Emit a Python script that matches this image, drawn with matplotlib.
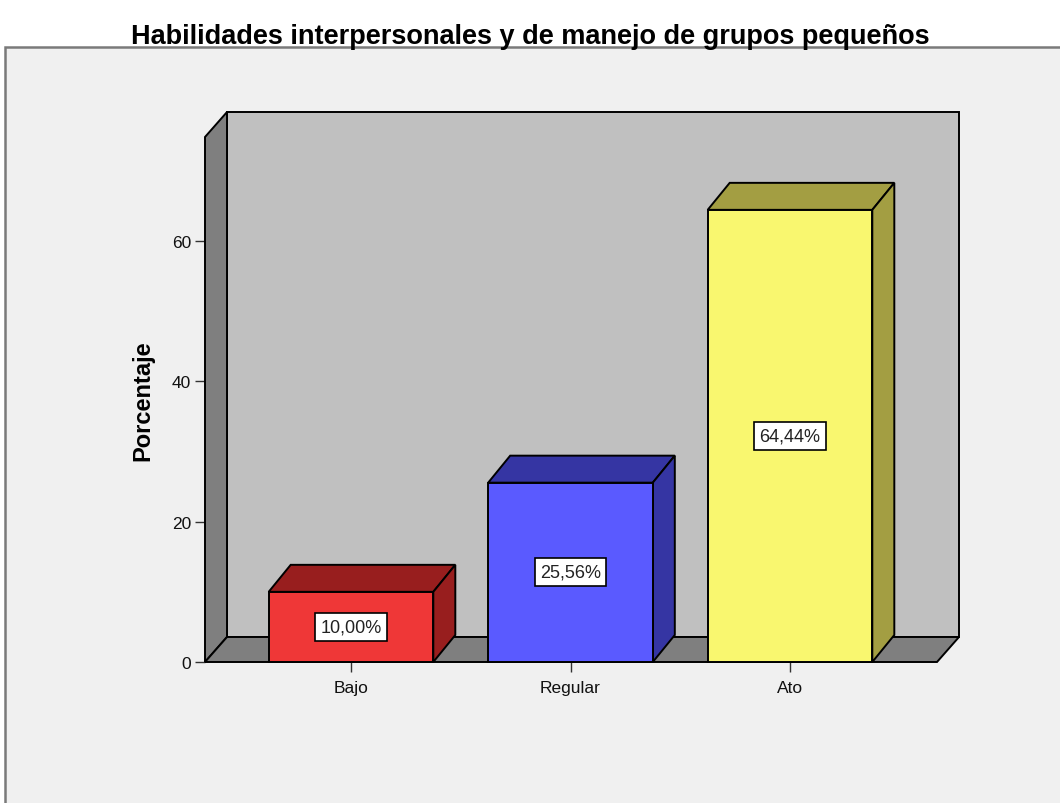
import matplotlib
matplotlib.use("Agg")
import matplotlib.pyplot as plt
from matplotlib.patches import Polygon, Rectangle

plt.rcParams['font.family'] = ['Liberation Sans', 'DejaVu Sans']

# data
categorias = ['Bajo', 'Regular', 'Ato']
porcentajes = [10.00, 25.56, 64.44]
frente = ['#ef3737', '#5a5aff', '#f9f76f']
lados = ['#981e1e', '#3535a3', '#a39e42']

titulo = 'Habilidades interpersonales y de manejo de grupos pequeños'

W, H = 1060, 804
fig = plt.figure(figsize=(W / 100, H / 100), dpi=100)
fig.patch.set_facecolor('white')

# outer chart frame
fig.patches.append(Rectangle((5 / W, -0.05), 1.1, 1 - 48 / H + 0.05, transform=fig.transFigure,
                             facecolor='#f0f0f0', edgecolor='#7a7a7a', linewidth=1.8, zorder=-5))
fig.text(0.5, 1 - 37 / H, titulo, ha='center', va='center', fontsize=19.5, fontweight='bold')

# axes = front face of the 3D box
x_left, x_right, y_bot, y_top = 205, 937, 663, 138
ax = fig.add_axes([x_left / W, 1 - y_bot / H, (x_right - x_left) / W, (y_bot - y_top) / H])
ax.set_zorder(2)
px_x = 219.5   # px per category
px_y = 421 / 60  # px per percent
x0 = (x_left - 351) / px_x
x1 = (x_right - 351) / px_x
ytop = (y_bot - y_top) / px_y
ax.set_xlim(x0, x1)
ax.set_ylim(0, ytop)
ax.patch.set_visible(False)
for s in ax.spines.values():
    s.set_visible(False)

dx = 22 / px_x
dy = 25 / px_y
lw = 1.4

# back wall, left wall, floor
ax.add_patch(Polygon([(x0 + dx, dy), (x1 + dx, dy), (x1 + dx, ytop + dy), (x0 + dx, ytop + dy)],
                     closed=True, fc='#c0c0c0', ec='black', lw=lw, clip_on=False, zorder=1))
ax.add_patch(Polygon([(x0, 0), (x0, ytop), (x0 + dx, ytop + dy), (x0 + dx, dy)],
                     closed=True, fc='#7f7f7f', ec='black', lw=lw, clip_on=False, zorder=2))
ax.add_patch(Polygon([(x0, 0), (x1, 0), (x1 + dx, dy), (x0 + dx, dy)],
                     closed=True, fc='#7f7f7f', ec='black', lw=lw, clip_on=False, zorder=2))

ancho = 0.75
bdy = 27 / px_y
for i, (v, fc, sc) in enumerate(zip(porcentajes, frente, lados)):
    a, b = i - ancho / 2, i + ancho / 2
    ax.add_patch(Polygon([(a, v), (b, v), (b + dx, v + bdy), (a + dx, v + bdy)],
                         closed=True, fc=sc, ec='black', lw=lw, clip_on=False, zorder=3))
    ax.add_patch(Polygon([(b, 0), (b, v), (b + dx, v + bdy), (b + dx, bdy)],
                         closed=True, fc=sc, ec='black', lw=lw, clip_on=False, zorder=3))
    ax.add_patch(Rectangle((a, 0), ancho, v, fc=fc, ec='black', lw=lw, clip_on=False, zorder=4))
    ax.text(i, v / 2, f'{v:.2f}%'.replace('.', ','), ha='center', va='center', fontsize=13,
            color='#222222', zorder=5,
            bbox=dict(boxstyle='square,pad=0.3', fc='white', ec='black', lw=1.2))

ax.set_yticks([0, 20, 40, 60])
ax.set_xticks(range(len(categorias)))
ax.set_xticklabels(categorias)
ax.tick_params(axis='both', direction='out', length=7, width=1, labelsize=12.5,
               colors='#333333', labelcolor='#111111')
ax.tick_params(axis='x', pad=6)
ax.tick_params(axis='y', pad=3)
ax.set_ylabel('Porcentaje', fontsize=17, fontweight='bold')
ax.yaxis.set_label_coords(-0.069, 0.5)

fig.savefig('out.png', dpi=100, facecolor=fig.get_facecolor())
